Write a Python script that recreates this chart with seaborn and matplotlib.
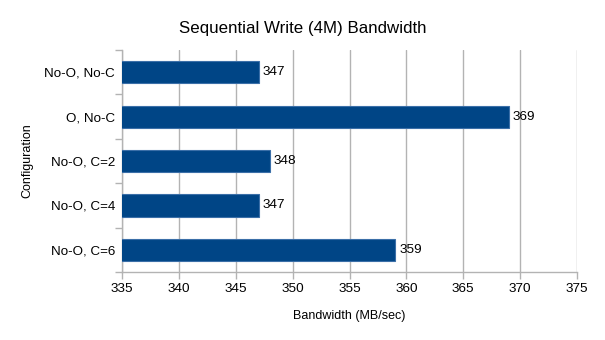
import matplotlib
matplotlib.use("Agg")
import matplotlib.pyplot as plt
import seaborn as sns
import pandas as pd

categories = ["No-O, No-C", "O, No-C", "No-O, C=2", "No-O, C=4", "No-O, C=6"]
values = [347, 369, 348, 347, 359]
xticks = [335, 340, 345, 350, 355, 360, 365, 370, 375]

sns.set_style("white")
plt.rcParams['font.family'] = ['Liberation Sans', 'DejaVu Sans']
plt.rcParams['text.color'] = 'black'
plt.rcParams['axes.labelcolor'] = 'black'
plt.rcParams['xtick.labelcolor'] = 'black'
plt.rcParams['ytick.labelcolor'] = 'black'

df = pd.DataFrame({"Configuration": categories, "Bandwidth": values})

fig = plt.figure(figsize=(6.05, 3.4), dpi=100)
ax = fig.add_axes([122/605, 1-272/340, (577-122)/605, (272-50)/340])

sns.barplot(data=df, y="Configuration", x="Bandwidth", orient="h", ax=ax,
            color="#004586", width=0.5, saturation=1, edgecolor="#3b6fa8",
            linewidth=0.8, zorder=3)

ax.set_xlim(335, 375)
ax.set_xticks(xticks)
ax.set_xticklabels([str(t) for t in xticks], fontsize=9.7)
ax.set_ylim(4.5, -0.5)
ax.set_yticks(range(len(categories)))
ax.set_yticklabels(categories, fontsize=9.6)

# category boundary ticks
ax.set_yticks([i + 0.5 for i in range(-1, len(categories))], minor=True)
ax.tick_params(axis='y', which='major', length=0, pad=5)
ax.tick_params(axis='y', which='minor', length=5, color="#b3b3b3", width=1, direction='out', left=True)
ax.tick_params(axis='x', which='major', length=5, color="#b3b3b3", width=1, direction='out', bottom=True, pad=3)

ax.grid(axis='x', color="#b3b3b3", linewidth=1, zorder=0)
ax.set_axisbelow(True)
for s in ["top", "right"]:
    ax.spines[s].set_visible(False)
for s in ["left", "bottom"]:
    ax.spines[s].set_color("#b3b3b3")
    ax.spines[s].set_linewidth(1)

for c in ax.containers:
    ax.bar_label(c, labels=[str(v) for v in values], padding=3, fontsize=9.7, color='black')

ax.set_xlabel("Bandwidth (MB/sec)", fontsize=9, labelpad=11)
ax.set_ylabel("Configuration", fontsize=9, labelpad=8)
fig.suptitle("Sequential Write (4M) Bandwidth", fontsize=12.2, y=0.937, color='black')

fig.savefig("out.png", dpi=100)
